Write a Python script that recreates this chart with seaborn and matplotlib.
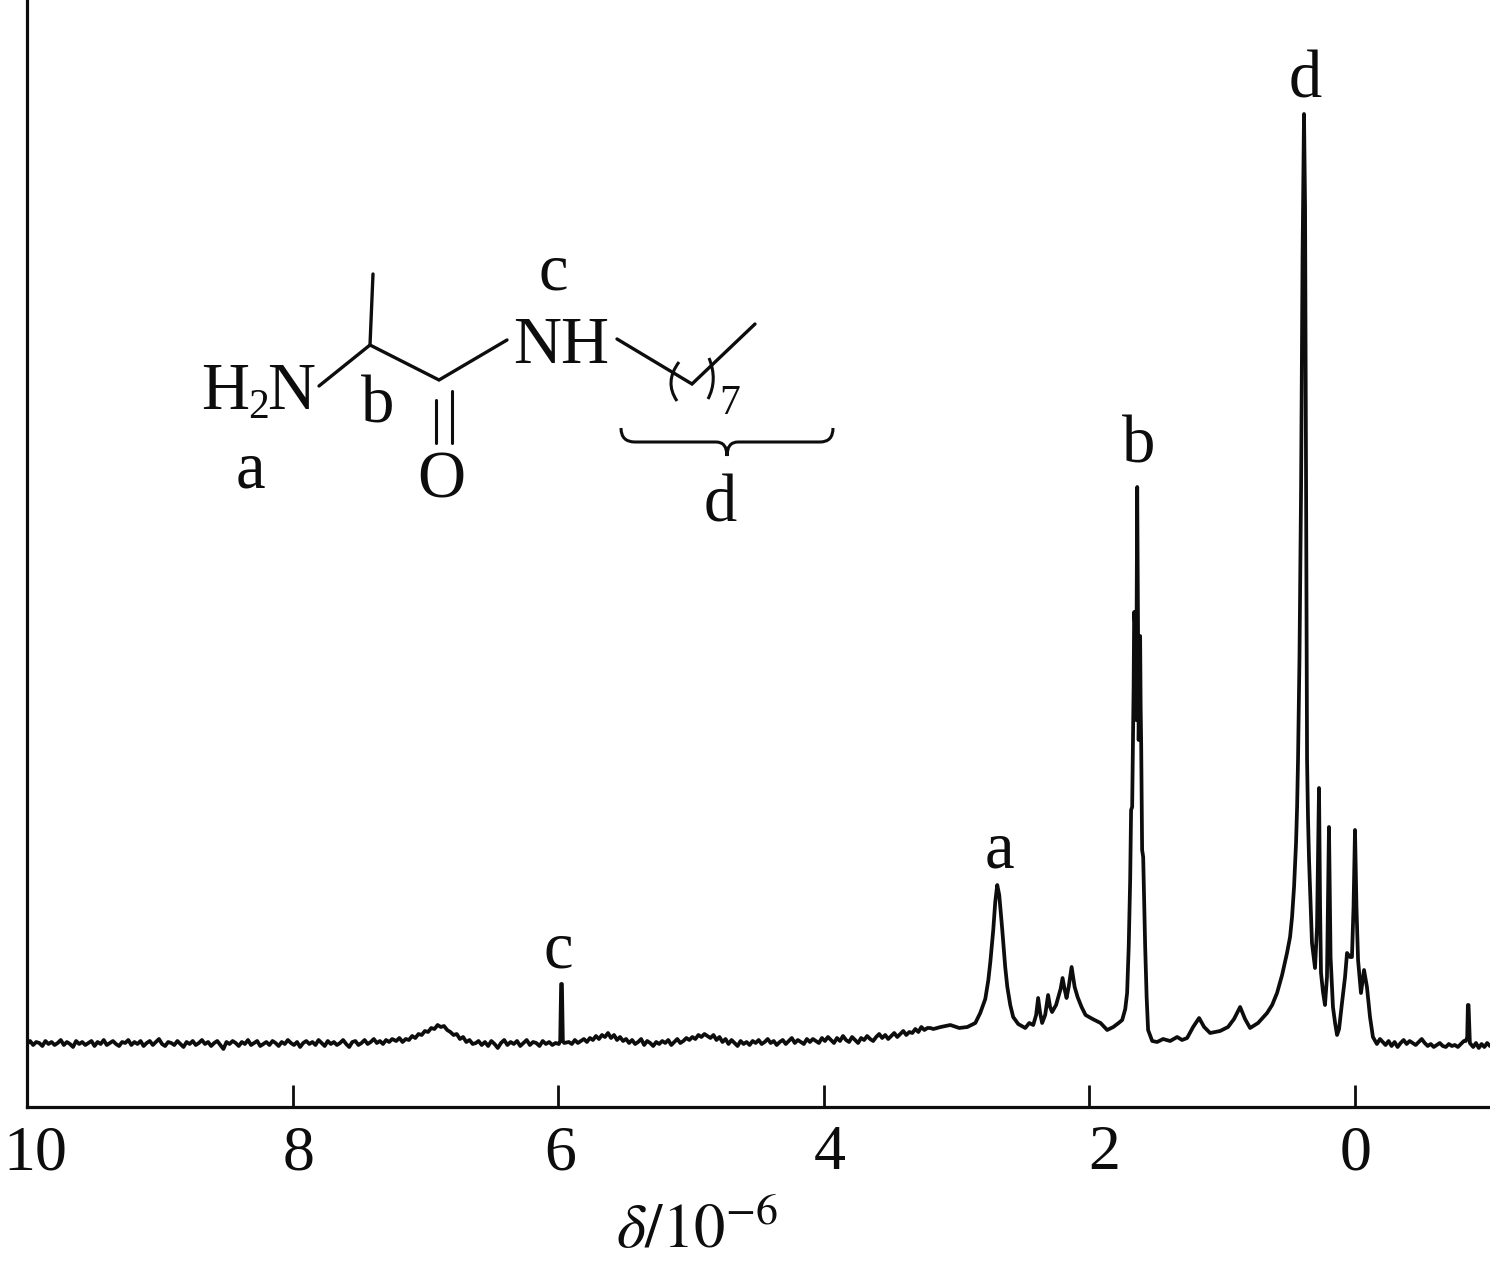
import numpy as np
import pandas as pd
import matplotlib
matplotlib.use("Agg")
import matplotlib.pyplot as plt
import seaborn as sns
from matplotlib.lines import Line2D
from matplotlib.patches import PathPatch
from matplotlib.path import Path
from matplotlib.transforms import ScaledTranslation

# ---- data: chemical shift (delta) and intensity ----
noise_a_range = (10.00, 7.25)
noise_a = [63,66,62,65,64,61,66,63,65,62,64,67,62,65,63,60,66,63,65,62,
           64,66,61,65,63,67,62,64,66,63,61,65,64,67,62,65,63,66,61,64,
           66,62,65,68,63,61,65,64,62,66,63,60,65,63,66,62,64,67,63,65,
           61,64,66,62,58,65,63,66,64,61,65,63,67,62,64,66,61,63,65,62,
           66,64,61,65,63,67,64,62,65,60,64,66,63,65,62,67,64,61,66,63,
           65,62,64,67,63,60,65,66,62,64,67,63,65,68,64,66,63,67,65,68]
bump_a_range = (7.22, 6.62)
bump_a = [66,69,65,68,67,71,69,73,72,76,75,79,78,82,80,81,77,75,72,73,68,70,65,67,63,64]
noise_b_range = (6.60, 6.02)
noise_b = [66,62,65,61,66,63,59,64,67,62,65,63,66,61,64,67,62,65,64,61,66,63,65,62,64]
spike_c_shift = [5.995, 5.985, 5.978, 5.972, 5.965, 5.955]
spike_c = [63, 66, 123, 123, 66, 64]
noise_c_range = (5.92, 3.22)
noise_c = [65,63,67,64,66,68,65,69,67,71,68,72,70,74,69,72,67,70,66,68,
           64,67,63,65,68,62,66,64,61,65,63,66,64,67,62,65,68,64,66,69,
           67,70,68,72,70,73,71,69,72,67,70,65,68,63,67,64,61,66,63,65,
           62,66,64,67,63,65,68,64,66,62,65,67,63,66,69,64,67,65,63,68,
           65,68,66,64,69,66,70,67,64,69,66,71,67,65,70,67,64,69,67,71,
           68,66,70,73,69,72,68,71,74,70,73,76,72,75,74,78,75,80,77,79]
rise_shift = [3.198,3.175,3.12,3.047,2.98,2.919,2.859,2.822,2.784,2.761,2.746,2.724,2.709,2.694,2.679,
              2.656,2.634,2.618,2.596,2.574,2.536,2.483,2.453,2.423,2.401,2.386,2.371,2.356,2.333,
              2.311,2.296,2.281,2.251,2.217,2.202,2.187,2.172,2.156,2.134,2.111,2.089,2.059,2.029,
              1.976,1.916,1.866,1.82,1.78,1.753,1.73,1.716,1.704,1.693,1.686,1.678,1.667,1.663,
              1.655,1.648,1.640,1.633,1.629,1.625,1.618,1.614,1.610,1.603,1.595,1.580,1.569,1.558,
              1.527,1.490,1.445,1.392,1.339,1.302,1.264,1.219,1.174,1.136,1.091,1.016,0.956,0.911,
              0.865,0.828,0.790,0.730,0.662,0.624,0.587,0.549,0.512,0.489,0.474,0.459,0.444,0.436,
              0.429,0.418,0.406,0.395,0.384,0.376,0.368,0.361,0.354,0.346,0.331,0.324,0.301,0.286,
              0.271,0.263,0.256,0.241,0.226,0.211,0.196,0.184,0.166,0.150,0.135,0.120,0.098,0.075,
              0.060,0.038,0.023,0.011,0.0,-0.011,-0.023,-0.045,-0.068,-0.090,-0.113,-0.135,-0.165,-0.188]
rise = [79,78,80,82,79,80,84,94,108,127,145,177,205,222,212,
        177,140,120,102,90,83,79,84,82,92,109,94,84,92,
        112,100,95,102,118,129,118,109,120,140,120,110,100,92,
        88,84,77,80,84,87,98,114,160,227,297,300,420,495,
        480,387,620,450,367,400,471,400,362,257,250,160,110,77,
        66,65,68,66,70,67,69,80,89,80,74,76,80,88,
        100,88,79,84,94,102,114,132,154,170,190,220,264,300,
        347,450,620,850,993,900,620,347,290,247,190,164,139,180,
        319,200,134,115,102,130,280,150,100,84,72,78,104,130,
        154,150,150,200,277,200,147,114,137,120,90,70,63,68]
noise_d_range = (-0.23, -0.82)
noise_d = [62,66,61,65,60,64,67,63,66,64,62,65,68,64,61,63,60,62,64,61,60,63,61,62,60,63,66]
spike_e_shift = [-0.835, -0.845, -0.85, -0.855, -0.865]
spike_e = [66, 70, 102, 102, 64]
noise_e_range = (-0.89, -1.016)
noise_e = [60,64,59,63,60,64,61]

tick_values = [10, 8, 6, 4, 2, 0]
peak_labels = ["a", "b", "c", "d"]

# ---- assemble the spectrum ----
parts_x, parts_y = [], []
for rng, vals in [(noise_a_range, noise_a), (bump_a_range, bump_a), (noise_b_range, noise_b)]:
    parts_x.append(np.linspace(rng[0], rng[1], len(vals))); parts_y.append(vals)
parts_x.append(spike_c_shift); parts_y.append(spike_c)
parts_x.append(np.linspace(noise_c_range[0], noise_c_range[1], len(noise_c))); parts_y.append(noise_c)
parts_x.append(rise_shift); parts_y.append(rise)
parts_x.append(np.linspace(noise_d_range[0], noise_d_range[1], len(noise_d))); parts_y.append(noise_d)
parts_x.append(spike_e_shift); parts_y.append(spike_e)
parts_x.append(np.linspace(noise_e_range[0], noise_e_range[1], len(noise_e))); parts_y.append(noise_e)
df = pd.DataFrame({"shift": np.concatenate(parts_x), "intensity": np.concatenate(parts_y)})

sns.set_style("ticks")
plt.rcParams["font.family"] = ["Liberation Serif", "DejaVu Serif"]
plt.rcParams["mathtext.fontset"] = "stix"

W, H = 1490, 1269
fig = plt.figure(figsize=(W / 100, H / 100), dpi=100)
ax = fig.add_axes([27 / W, (H - 1107) / H, (W - 27) / W, 1107 / H])
INK = "#0d0d0d"
sns.lineplot(data=df, x="shift", y="intensity", sort=False, estimator=None, errorbar=None,
             color=INK, lw=2.7, ax=ax, solid_joinstyle="round")
ax.set_xlim(10, (1355 - 1490) / 132.8)
ax.set_ylim(0, 1107)
ax.set_yticks([])
ax.set_ylabel("")
ax.set_xticks(tick_values)
ax.set_xticklabels([str(v) for v in tick_values], fontsize=46, color=INK)
ax.tick_params(axis="x", direction="in", length=15.5, width=2.0, color=INK, pad=13)
for lab, dx in zip(ax.get_xticklabels(), [8, 6, 2, 6, 15, 1]):
    lab.set_transform(lab.get_transform() + ScaledTranslation(dx / 100, 0, fig.dpi_scale_trans))
ax.xaxis.get_major_ticks()[0].tick1line.set_visible(False)
sns.despine(ax=ax, top=True, right=True)
for s in ("left", "bottom"):
    ax.spines[s].set_linewidth(2.3)
    ax.spines[s].set_color(INK)
ax.set_xlabel(r"$\delta/10^{-6}$", fontsize=45, color=INK)
ax.xaxis.set_label_coords((697 - 27) / (W - 27), -(1248 - 1107) / 1107, transform=ax.transAxes)
ax.xaxis.label.set_va("baseline")

# ---- annotations placed in picture pixels ----
def fx(x): return x / W
def fy(y): return 1 - y / H

def label(x, y, s, size=48, **kw):
    fig.text(fx(x), fy(y), s, fontsize=size, color=INK, ha="center", va="baseline", **kw)

def bond(points, lw=2.4):
    fig.add_artist(Line2D([fx(p[0]) for p in points], [fy(p[1]) for p in points],
                          transform=fig.transFigure, color=INK, lw=lw, solid_capstyle="round",
                          solid_joinstyle="miter"))

def curve(verts, codes, lw=2.2):
    path = Path([(fx(a), fy(b)) for a, b in verts], codes)
    fig.add_artist(PathPatch(path, transform=fig.transFigure, fc="none", ec=INK, lw=lw))

# peak labels
for (x, y), s in zip([(999, 868), (1139, 462), (558, 968), (1305, 97)], peak_labels):
    label(x, y, s)

# structure
bond([(319, 386), (370, 345), (439, 380), (507, 340)])
bond([(370, 345), (373, 274)])
bond([(436, 400), (436, 443)], lw=2.2)
bond([(452, 391), (452, 443)], lw=2.2)
bond([(617, 339), (692, 384), (755, 324)])
C3 = Path.CURVE3
curve([(679, 362), (664, 382), (677, 401)], [Path.MOVETO, C3, C3])
curve([(709, 358), (718, 380), (708, 399)], [Path.MOVETO, C3, C3])
curve([(621, 428), (621, 442), (635, 442), (716, 442), (727, 442), (727, 456),
       (727, 442), (738, 442), (820, 442), (833, 442), (833, 428)],
      [Path.MOVETO, C3, C3, Path.LINETO, C3, C3, C3, C3, Path.LINETO, C3, C3])
fig.text(fx(201), fy(409), "H", fontsize=48, color=INK, ha="left", va="baseline")
fig.text(fx(248), fy(418), "2", fontsize=30, color=INK, ha="left", va="baseline")
fig.text(fx(267), fy(409), "N", fontsize=48, color=INK, ha="left", va="baseline")
label(378, 423, "b")
label(250, 487, "a")
label(441, 498, "O")
fig.text(fx(513), fy(363), "NH", fontsize=48, color=INK, ha="left", va="baseline")
label(553, 289, "c")
label(730, 414, "7", size=30)
label(720, 521, "d")

fig.savefig("out.png", dpi=100)
